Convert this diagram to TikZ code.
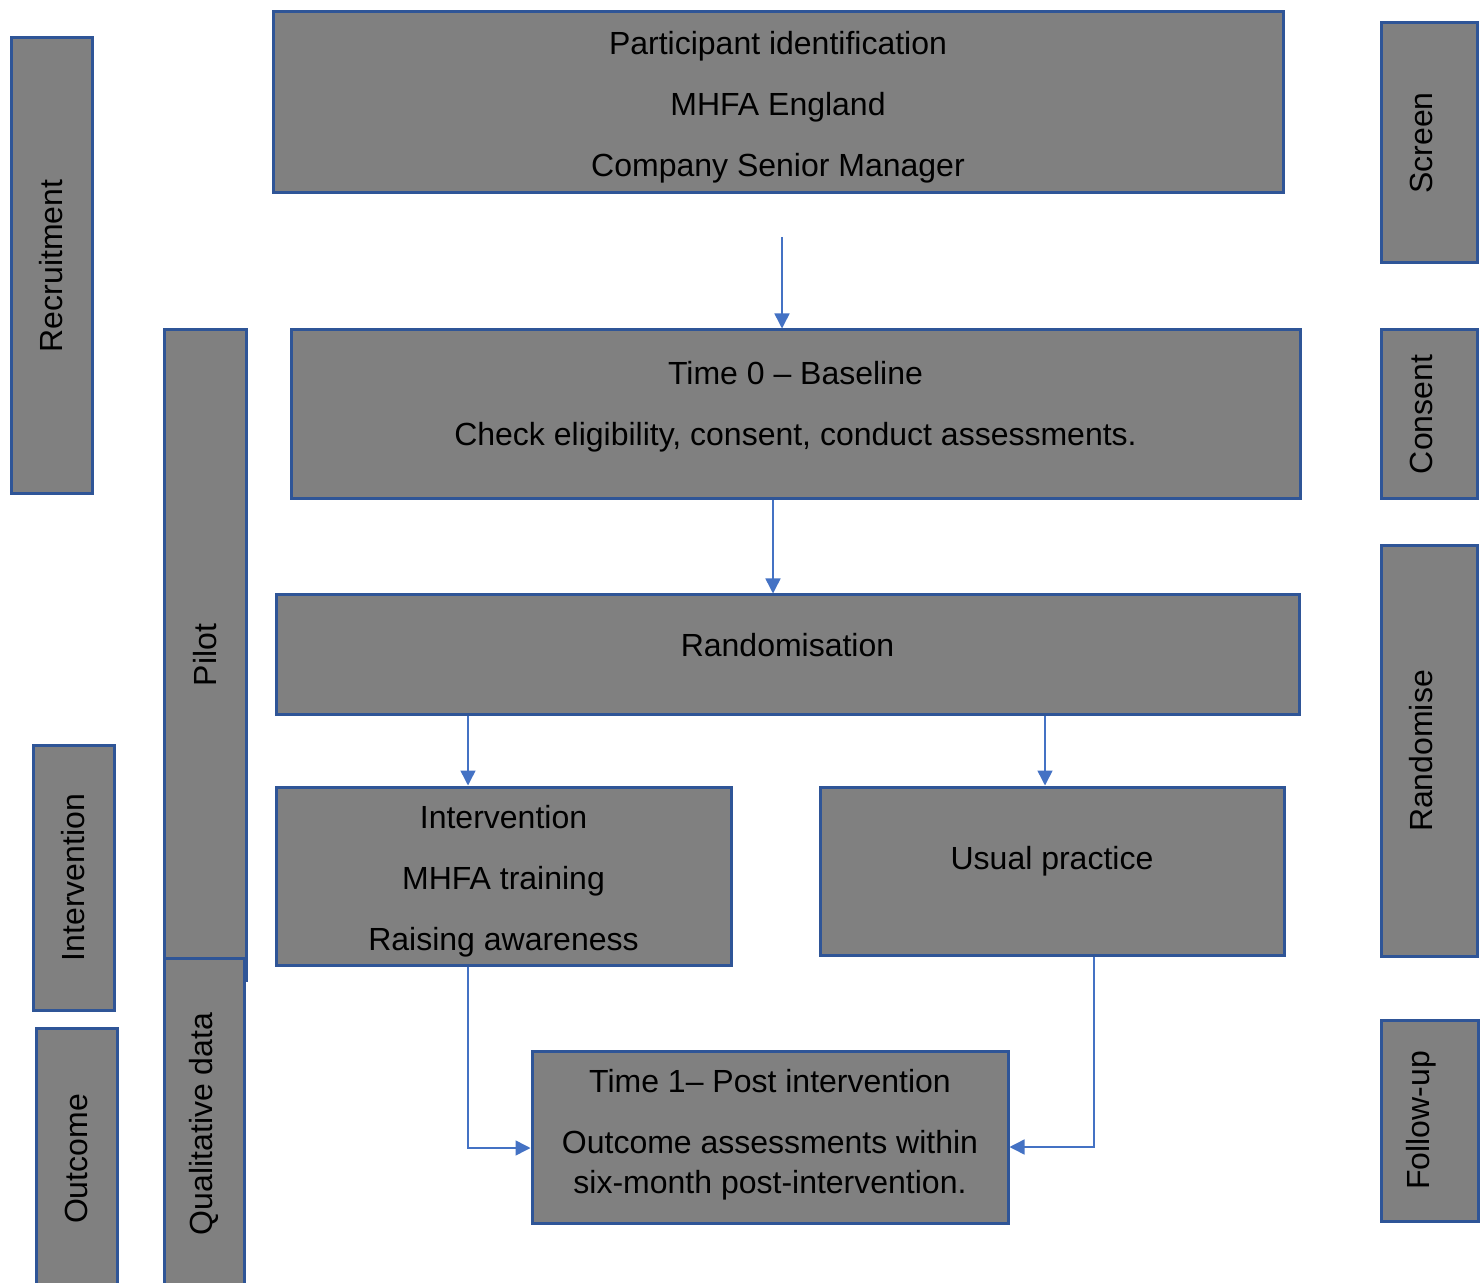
\documentclass[tikz,border=0pt]{standalone}
\usepackage{fontspec}
\setmainfont{Liberation Sans}
\usetikzlibrary{positioning,arrows.meta}
\definecolor{boxfill}{HTML}{808080}
\definecolor{boxline}{HTML}{2F5597}
\definecolor{flowline}{HTML}{4472C4}

\begin{document}
\begin{tikzpicture}[
  x=0.5pt, y=-0.5pt,
  stage/.style={rectangle, draw=boxline, line width=1.5pt, fill=boxfill, inner sep=0pt},
  sidebar/.style={rectangle, draw=boxline, line width=1.5pt, fill=boxfill, inner sep=0pt},
  txt/.style={align=center, font=\fontsize{16}{30.5}\selectfont, inner sep=0pt},
  sidetxt/.style={rotate=90, font=\fontsize{16}{19}\selectfont, inner sep=0pt},
  flow/.style={-{Triangle[length=7.5pt,width=7.5pt]}, draw=flowline, line width=0.75pt}
]
\useasboundingbox (0,0) rectangle (1484,1283);
\clip (0,0) rectangle (1484,1283);

% Side bars (left)
\node[sidebar, minimum width=40.5pt, minimum height=228pt] (recruit) at (51.5,266) {};
\node[sidetxt] (recruit_t) at (recruit.center) {Recruitment};
\node[sidebar, minimum width=41pt, minimum height=325pt] (pilot) at (205,655) {};
\node[sidetxt] (pilot_t) at (pilot.center) {Pilot};
\node[sidebar, minimum width=40.5pt, minimum height=132.5pt] (interv_side) at (73.5,877.5) {};
\node[sidetxt] (interv_side_t) at (interv_side.center) {Intervention};
\node[sidebar, minimum width=40pt, minimum height=166pt] (quali) at (204,1124) {};
\node[sidetxt] (quali_t) at (quali.center) {Qualitative data};
\node[sidebar, minimum width=40.5pt, minimum height=131pt] (outcome) at (76.5,1159) {};
\node[sidetxt] (outcome_t) at (outcome.center) {Outcome};

% Side bars (right)
\node[sidebar, minimum width=48pt, minimum height=120pt] (screen) at (1429,143) {};
\node[sidetxt] (screen_t) at ([xshift=-4pt]screen.center) {Screen};
\node[sidebar, minimum width=48pt, minimum height=84.5pt] (consent) at (1429,414.5) {};
\node[sidetxt] (consent_t) at ([xshift=-4pt]consent.center) {Consent};
\node[sidebar, minimum width=48pt, minimum height=205pt] (randomise) at (1429,751) {};
\node[sidetxt] (randomise_t) at ([xshift=-4pt]randomise.center) {Randomise};
\node[sidebar, minimum width=48.5pt, minimum height=100.5pt] (follow) at (1429.5,1120.5) {};
\node[sidetxt] (follow_t) at ([xshift=-4pt]follow.center) {Follow-up};

% Main stages
\node[stage, minimum width=505pt, minimum height=90.5pt] (ident) at (778,102.5) {};
\node[txt] (ident_t) at (778,107) {Participant identification\\MHFA England\\Company Senior Manager};
\node[stage, minimum width=504.5pt, minimum height=84.5pt] (base) at (795.5,414.5) {};
\node[txt] (base_t) at (795.5,406.5) {Time 0 -- Baseline\\Check eligibility, consent, conduct assessments.};
\node[stage, minimum width=511.5pt, minimum height=59.5pt] (rand) at (787.5,654.5) {};
\node[txt] (rand_t) at (787.5,645) {Randomisation};
\node[stage, minimum width=227.5pt, minimum height=89pt] (interv) at (503.5,876) {};
\node[txt] (interv_t) at (503.5,881) {Intervention\\MHFA training\\Raising awareness};
\node[stage, minimum width=232pt, minimum height=84pt] (usual) at (1052,871) {};
\node[txt] (usual_t) at (1052,861) {Usual practice};
\node[stage, minimum width=238pt, minimum height=86pt] (post) at (770,1137) {};
\node[txt] (post_t) at (770,1134.5) {Time 1-- Post intervention\\Outcome assessments within\\[-10.5pt]six-month post-intervention.};

% Flow arrows
\coordinate (start) at (782,237);
\draw[flow] (start) -- (start |- base.north);
\draw[flow] (base.south -| 773,0) -- (rand.north -| 773,0);
\draw[flow] (rand.south -| 468,0) -- (interv.north -| 468,0);
\draw[flow] (rand.south -| 1045,0) -- (usual.north -| 1045,0);
\draw[flow] (interv.south -| 468,0) |- (post.west |- 0,1148);
\draw[flow] (usual.south -| 1094,0) |- (post.east |- 0,1147);

\end{tikzpicture}
\end{document}
